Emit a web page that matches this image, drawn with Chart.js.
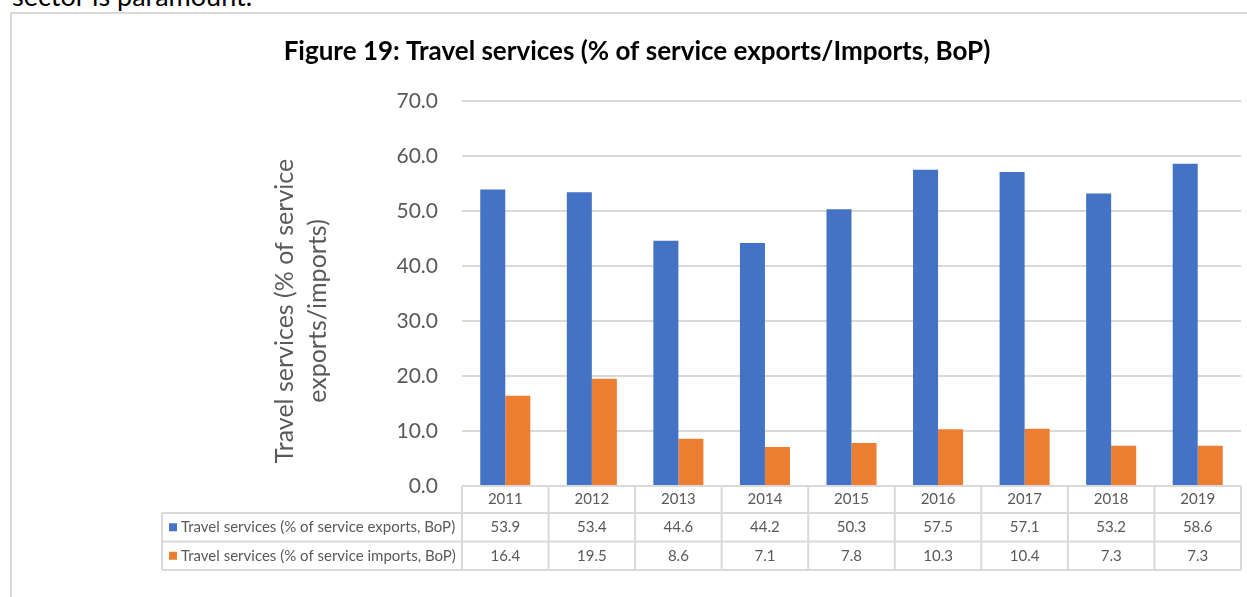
<!DOCTYPE html>
<html>
<head>
<meta charset="utf-8">
<title>Travel services</title>
<script src="https://cdn.jsdelivr.net/npm/chart.js@4.4.1/dist/chart.umd.min.js"></script>
<style>
  html, body { margin: 0; padding: 0; background: #fff; overflow: hidden; }
  body { width: 1247px; height: 597px; position: relative; font-family: Lato, sans-serif; }
  .lead { position: absolute; left: 12px; top: -18px; font-size: 27px; line-height: 27px; color: #000; white-space: nowrap; }
  .frame { position: absolute; left: 10px; top: 12px; width: 1300px; height: 700px;
           border-left: 2px solid #d9d9d9; border-top: 2px solid #d9d9d9; }
  .wrap { position: absolute; left: 0; top: 0; width: 1247px; height: 597px; }
</style>
</head>
<body>
<div class="lead">sector is paramount.</div>
<div class="frame"></div>
<div class="wrap"><canvas id="travel" width="1247" height="597"></canvas></div>
<script>
const years = ['2011', '2012', '2013', '2014', '2015', '2016', '2017', '2018', '2019'];
const exportsShare = [53.9, 53.4, 44.6, 44.2, 50.3, 57.5, 57.1, 53.2, 58.6];
const importsShare = [16.4, 19.5, 8.6, 7.1, 7.8, 10.3, 10.4, 7.3, 7.3];
const seriesNames = [
  'Travel services (% of service exports, BoP)',
  'Travel services (% of service imports, BoP)'
];
const axisTitle = ['Travel services (% of service', 'exports/imports)'];
const figTitle = 'Figure 19: Travel services (% of service exports/Imports, BoP)';

const BLUE = '#4472C4';
const ORANGE = '#ED7D31';
const GRID = '#d9d9d9';
const TEXT = '#595959';

Chart.defaults.font.family = 'Lato, sans-serif';

// data table under the bars, plus the rotated y title
const dataTable = {
  id: 'dataTable',
  afterDraw(chart) {
    const { ctx, chartArea: area, scales: { x } } = chart;
    const n = years.length;
    const colW = (area.right - area.left) / n;
    const top = area.bottom;
    const headH = 27, rowH = 28.5;
    const labelLeft = 162;
    const bottom = top + headH + rowH * 2;

    ctx.save();
    ctx.strokeStyle = GRID;
    ctx.lineWidth = 2;
    ctx.beginPath();
    ctx.moveTo(area.left, top); ctx.lineTo(area.right, top);
    [top + headH, top + headH + rowH, bottom].forEach(y => {
      ctx.moveTo(labelLeft, y); ctx.lineTo(area.right, y);
    });
    ctx.moveTo(labelLeft, top + headH); ctx.lineTo(labelLeft, bottom);
    for (let i = 0; i <= n; i++) {
      const cx = area.left + i * colW;
      ctx.moveTo(cx, top); ctx.lineTo(cx, bottom);
    }
    ctx.stroke();

    ctx.fillStyle = TEXT;
    ctx.font = '15px Lato, sans-serif';
    ctx.textBaseline = 'middle';
    ctx.textAlign = 'center';
    const rows = [exportsShare, importsShare];
    years.forEach((yr, i) => {
      const cx = x.getPixelForValue(i);
      ctx.fillText(yr, cx, top + headH / 2);
      rows.forEach((vals, r) => {
        ctx.fillText(vals[i].toFixed(1), cx, top + headH + rowH * r + rowH / 2);
      });
    });

    ctx.textAlign = 'left';
    [BLUE, ORANGE].forEach((col, r) => {
      const cy = top + headH + rowH * r + rowH / 2;
      ctx.fillStyle = col;
      ctx.fillRect(169, cy - 4, 8, 8);
      ctx.fillStyle = TEXT;
      ctx.fillText(seriesNames[r], 181, cy);
    });

    // y axis title, two lines, rotated
    ctx.translate(285, 311);
    ctx.rotate(-Math.PI / 2);
    ctx.font = '25px Lato, sans-serif';
    ctx.textAlign = 'center';
    axisTitle.forEach((line, k) => ctx.fillText(line, 0, k * 33));
    ctx.restore();
  }
};

new Chart(document.getElementById('travel'), {
  type: 'bar',
  data: {
    labels: years,
    datasets: [{
      label: seriesNames[0],
      data: exportsShare,
      backgroundColor: BLUE,
      barPercentage: 1,
      categoryPercentage: 0.578
    }, {
      label: seriesNames[1],
      data: importsShare,
      backgroundColor: ORANGE,
      barPercentage: 1,
      categoryPercentage: 0.578
    }]
  },
  options: {
    responsive: false,
    animation: false,
    layout: { padding: { left: 33, right: 6, top: 0, bottom: 0 } },
    scales: {
      x: {
        ticks: { display: false },
        grid: { display: false },
        border: { display: false },
        afterFit(scale) { scale.height = 111; }
      },
      y: {
        min: 0,
        max: 70,
        ticks: {
          stepSize: 10,
          padding: 24,
          color: TEXT,
          font: { size: 21 },
          callback: v => v.toFixed(1)
        },
        grid: { color: GRID, lineWidth: 2, drawTicks: false },
        border: { display: false },
        afterFit(scale) { scale.width = 429; }
      }
    },
    plugins: {
      legend: { display: false },
      tooltip: { enabled: false },
      title: {
        display: true,
        text: figTitle,
        color: '#000',
        font: { size: 26, weight: 'bold' },
        padding: { top: 36.4, bottom: 33.4 }
      }
    }
  },
  plugins: [dataTable]
});
</script>
</body>
</html>
